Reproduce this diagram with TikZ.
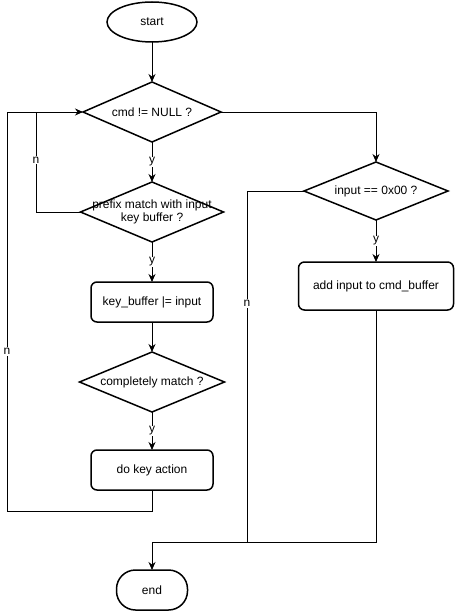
\documentclass[tikz,border=0pt]{standalone}
\usepackage{fontspec}
\setmainfont{Liberation Sans}
\usetikzlibrary{arrows.meta,calc,positioning,shapes.geometric}

\begin{document}
\begin{tikzpicture}[
  x=1pt, y=1pt,
  font=\fontsize{12}{13}\selectfont,
  node distance=40pt,
  terminal/.style={draw, ellipse, line width=1.5pt, outer sep=0pt,
                   minimum width=90pt, minimum height=40pt},
  stopbox/.style={draw, rounded corners=19pt, line width=1.5pt, outer sep=0pt,
                  minimum width=71pt, minimum height=40pt},
  decision/.style={draw, diamond, aspect=2.3, line width=1.5pt, inner sep=0pt,
                   outer sep=0pt, minimum width=138pt, minimum height=60pt},
  block/.style={draw, rounded corners=6pt, line width=1.5pt, outer sep=0pt,
                minimum width=122pt, minimum height=40pt, align=center},
  arrow/.style={-{Stealth[length=8pt,width=7pt]}, line width=.8pt},
  wire/.style={line width=.8pt},
  yn/.style={fill=white, inner sep=1pt},
]
\useasboundingbox (0,0) rectangle (455,-612);

\node[terminal] (start) at (152,-22) {start};
\node[decision, below=of start] (cmd) {cmd != NULL ?};
\node[decision, below=of cmd, minimum width=143pt,
      label={[align=center]center:prefix match with input\\key buffer ?}]
 (prefix) {};
\node[block, below=of prefix] (keybuf) {key\_buffer |= input};
\node[decision, below=30pt of keybuf, minimum width=145pt] (complete)
 {completely match ?};
\node[block, below=38pt of complete] (keyact) {do key action};
\node[stopbox] (end) at (152,-590) {end};

\node[decision, minimum width=144pt, minimum height=58pt] (input) at (376,-191)
 {input == 0x00 ?};
\node[block, below=42pt of input, minimum width=155pt, minimum height=48pt]
 (add) {add input to cmd\_buffer};

\coordinate (back) at (7,-511);
\coordinate (join) at (247,-542);

\draw[arrow] (start) -- (cmd);
\draw[arrow] (cmd) -- node[yn]{y} (prefix);
\draw[arrow] (prefix) -- node[yn]{y} (keybuf);
\draw[arrow] (keybuf) -- (complete);
\draw[arrow] (complete) -- node[yn]{y} (keyact);
\draw[arrow] (keyact.south) |- (back) |- node[yn, pos=.2]{n} (cmd.west);
\draw[wire] (prefix.west) -| node[yn, pos=.76]{n} ($(cmd.west)+(-47,0)$);

\draw[arrow] (cmd.east) -| (input.north);
\draw[arrow] (input) -- node[yn]{y} (add);
\draw[wire] (input.west) -| node[yn, pos=.66]{n} (join);
\draw[arrow] (add.south) |- (end.north |- join) -- (end.north);
\end{tikzpicture}
\end{document}
